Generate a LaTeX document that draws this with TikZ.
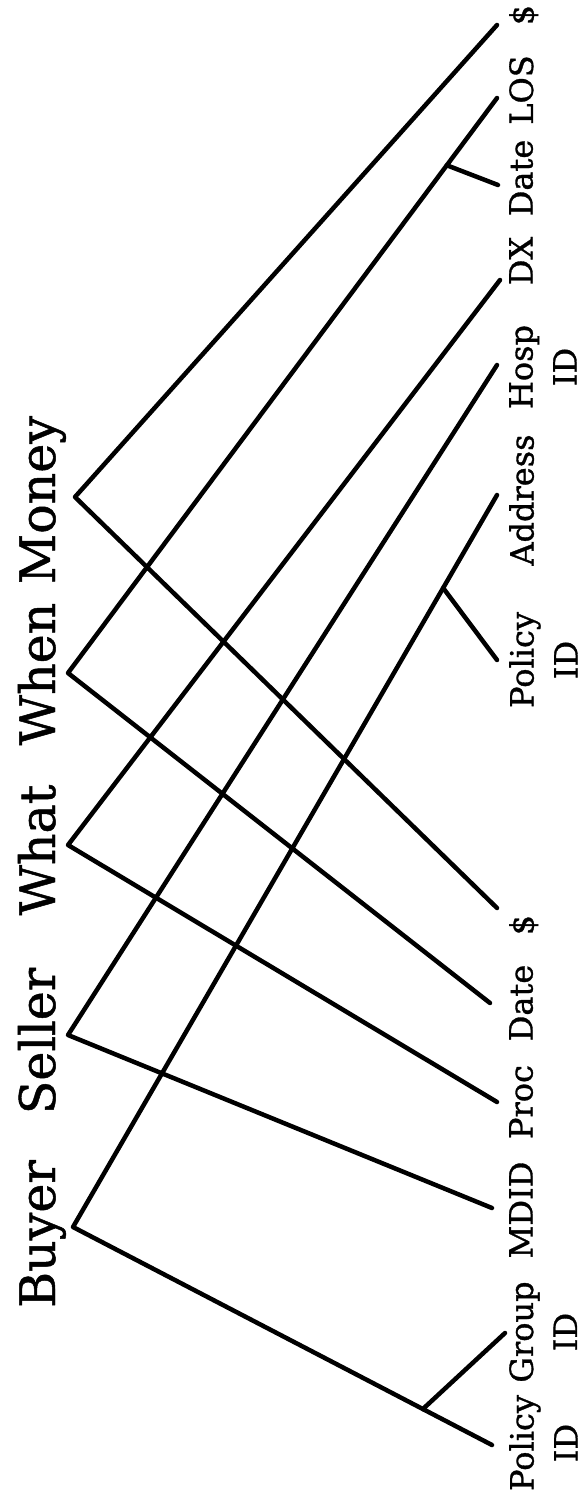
\documentclass[tikz,border=0pt]{standalone}
\usepackage{fontspec}
\setmainfont{DejaVu Serif}
\newfontfamily\heavyserif{DejaVu Serif}[FakeBold=1]
\usetikzlibrary{calc}
\begin{document}
\begin{tikzpicture}[x=1pt,y=1pt,
  wire/.style={line width=4.5pt, line cap=round, line join=round, black},
  head/.style={rotate=90, anchor=base, inner sep=0pt, font=\heavyserif\fontsize{49}{60}\selectfont},
  lab/.style={rotate=90, anchor=north, inner sep=0pt, align=center, font=\heavyserif\fontsize{32}{44}\selectfont}]
\fill[white] (0,0) rectangle (585,-1503);
\useasboundingbox (0,0) rectangle (585,-1503);

% headings
\node[head] (hBuyer)  at (55,-1234) {Buyer};
\node[head] (hSeller) at (55,-1041) {Seller};
\node[head] (hWhat)   at (55,-850) {What};
\node[head] (hWhen)   at (55,-674) {When};
\node[head] (hMoney)  at (55,-500) {Money};

% apexes
\coordinate (aBuyer)  at (73,-1227);
\coordinate (aSeller) at (68,-1035);
\coordinate (aWhat)   at (68,-845);
\coordinate (aWhen)   at (68,-673);
\coordinate (aMoney)  at (75,-497);

% line ends
\coordinate (eMoneyT) at (497,-25);
\coordinate (eLOS)    at (497,-98);
\coordinate (eDateT)  at (498,-185);
\coordinate (eDX)     at (500,-280);
\coordinate (eHosp)   at (497,-365);
\coordinate (eAddr)   at (497,-495);
\coordinate (ePolT)   at (497,-660);
\coordinate (eMoneyB) at (497,-908);
\coordinate (eDateB)  at (490,-1003);
\coordinate (eProc)   at (497,-1102);
\coordinate (eMDID)   at (492,-1208);
\coordinate (eGroup)  at (505,-1333);
\coordinate (ePolB)   at (492,-1445);

% branch points
\coordinate (bDate) at ($(aWhen)!0.883!(eLOS)$);
\coordinate (bPolT) at ($(aBuyer)!0.873!(eAddr)$);
\coordinate (bPolB) at ($(aBuyer)!0.835!(ePolB)$);

% labels
\node[lab] (lMoneyT) at (509,-15)   {\$};
\node[lab] (lLOS)    at (509,-90)   {LOS};
\node[lab] (lDateT)  at (509,-178)  {Date};
\node[lab] (lDX)     at (509,-261)  {DX};
\node[lab] (lHosp)   at (509,-367)  {Hosp\\ID};
\node[lab] (lAddr)   at (509,-500)  {Address};
\node[lab] (lPolT)   at (509,-660)  {Policy\\ID};
\node[lab] (lMoneyB) at (509,-925)  {\$};
\node[lab] (lDateB)  at (509,-1003) {Date};
\node[lab] (lProc)   at (509,-1102) {Proc};
\node[lab] (lMDID)   at (509,-1210) {MDID};
\node[lab] (lGroup)  at (509,-1332) {Group\\ID};
\node[lab] (lPolB)   at (509,-1443) {Policy\\ID};

% wires
\draw[wire] (eMoneyT) -- (aMoney) -- (eMoneyB);
\draw[wire] (eLOS) -- (aWhen) -- (eDateB);
\draw[wire] (eDX) -- (aWhat) -- (eProc);
\draw[wire] (eHosp) -- (aSeller) -- (eMDID);
\draw[wire] (eAddr) -- (aBuyer) -- (ePolB);
\draw[wire] (bDate) -- (eDateT);
\draw[wire] (bPolT) -- (ePolT);
\draw[wire] (bPolB) -- (eGroup);
\end{tikzpicture}
\end{document}
